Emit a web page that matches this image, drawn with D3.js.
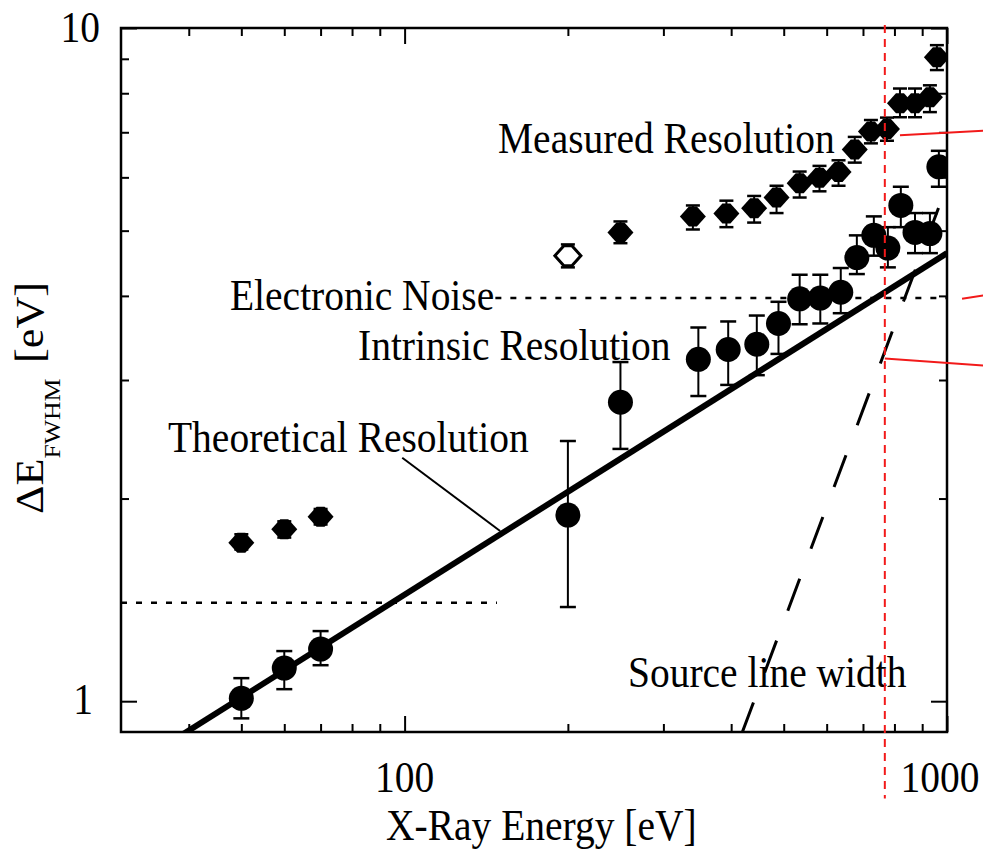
<!DOCTYPE html>
<html>
<head>
<meta charset="utf-8">
<script src="https://cdn.jsdelivr.net/npm/d3@7"></script>
<style>
  body { margin: 0; background: #fff; }
  svg { display: block; }
  text { font-family: "Liberation Serif", "Times New Roman", serif; fill: #000; }
</style>
</head>
<body>
<svg id="chart" width="983" height="850"></svg>
<script>
// Measured resolution (diamonds): energy [eV], value, lower and upper bar ends [eV]
const measuredE   = [50, 60, 70, 200, 250, 340, 392, 441, 485, 535, 582, 631, 676, 724, 775, 819, 873, 930, 958];
const measuredVal = [1.72, 1.80, 1.88, 4.59, 4.97, 5.25, 5.30, 5.40, 5.60, 5.88, 5.99, 6.11, 6.60, 7.02, 7.08, 7.73, 7.73, 7.89, 9.05];
const measuredLo  = [1.68, 1.75, 1.83, 4.41, 4.79, 5.02, 5.06, 5.14, 5.31, 5.60, 5.72, 5.83, 6.31, 6.74, 6.80, 7.37, 7.37, 7.50, 8.66];
const measuredHi  = [1.77, 1.85, 1.93, 4.77, 5.16, 5.45, 5.54, 5.63, 5.83, 6.12, 6.24, 6.36, 6.89, 7.30, 7.36, 8.13, 8.13, 8.22, 9.43];
const measuredOpen = [200]; // hollow symbol

// Intrinsic resolution (circles)
const intrinsicE   = [50, 60, 70, 200, 250, 348, 395, 446, 489, 535, 584, 637, 682, 733, 778, 822, 873, 930, 966];
const intrinsicVal = [1.01, 1.12, 1.195, 1.89, 2.78, 3.22, 3.33, 3.39, 3.64, 3.96, 3.97, 4.05, 4.56, 4.92, 4.71, 5.45, 4.97, 4.95, 6.22];
const intrinsicLo  = [0.943, 1.042, 1.131, 1.38, 2.37, 2.84, 2.95, 3.05, 3.28, 3.63, 3.64, 3.77, 4.31, 4.59, 4.41, 5.06, 4.63, 4.63, 5.81];
const intrinsicHi  = [1.082, 1.187, 1.271, 2.435, 3.19, 3.59, 3.665, 3.74, 3.92, 4.30, 4.30, 4.40, 4.92, 5.25, 5.06, 5.81, 5.31, 5.31, 6.57];

// Curves [energy, dE]
const theoryLine   = [[39, 0.893], [1000, 4.63]];
const sourceLine   = [[418, 0.893], [1000, 5.84]];
const noiseHigh    = [[147, 3.97], [1000, 3.97]];
const noiseLow     = [[30, 1.40], [148, 1.40]];
const theoryPointer = [[99, 2.30], [150, 1.79]];

// Red overlay marks
const redMarkerE = 768;
const redMarkerSpan = [10.1, 0.717];
const redLeaders = [
  [[819, 6.93], [1176, 7.04]],
  [[1066, 3.96], [1176, 4.01]],
  [[768, 3.23], [1176, 3.15]]
];

// Axis ticks
const xMajor = [100, 1000];
const xMinor = [40, 50, 60, 70, 80, 90, 200, 300, 400, 500, 600, 700, 800, 900];
const yMajor = [1, 10];
const yMinor = [2, 3, 4, 5, 6, 7, 8, 9];

const STRETCH = 1.12;  // the scanned text is a little taller than wide
const FS = 39.5;

const svg = d3.select("#chart");
const x = d3.scaleLog().domain([30, 1000]).range([121, 947]);
const y = d3.scaleLog().domain([0.9, 10]).range([732, 28]);
const [x0, x1] = x.range();
const [y0, y1] = [y.range()[1], y.range()[0]];

svg.append("defs").append("clipPath").attr("id", "plotclip")
  .append("rect").attr("x", x0).attr("y", y0).attr("width", x1 - x0).attr("height", y1 - y0);

// axes with inward ticks on all four sides
function addAxis(axisFn, translate, values, size) {
  const g = svg.append("g").attr("transform", translate)
    .call(axisFn.tickValues(values).tickSize(-size).tickFormat(""));
  g.select(".domain").remove();
  g.selectAll(".tick line").attr("stroke", "#000").attr("stroke-width", 2);
}
addAxis(d3.axisBottom(x), `translate(0,${y1})`, xMajor, 16);
addAxis(d3.axisBottom(x), `translate(0,${y1})`, xMinor, 8);
addAxis(d3.axisTop(x), `translate(0,${y0})`, xMajor, 16);
addAxis(d3.axisTop(x), `translate(0,${y0})`, xMinor, 8);
addAxis(d3.axisLeft(y), `translate(${x0},0)`, yMajor, 16);
addAxis(d3.axisLeft(y), `translate(${x0},0)`, yMinor, 8);
addAxis(d3.axisRight(y), `translate(${x1},0)`, yMajor, 16);
addAxis(d3.axisRight(y), `translate(${x1},0)`, yMinor, 8);

function label(txt, px, py, size, anchor) {
  return svg.append("text")
    .attr("transform", `translate(${px},${py}) scale(1,${STRETCH})`)
    .attr("text-anchor", anchor || "start")
    .style("font-size", size + "px")
    .text(txt);
}

// tick labels
label("10", 100, y(10) + 14, FS, "end");
label("1", 93, y(1) + 13, FS, "end");
label("100", x(100), 792, FS, "middle");
label("1000", x(1000) - 7, 792, FS, "middle");

// axis titles
label("X-Ray Energy [eV]", 386, 840, FS, "start");
const yt = svg.append("text")
  .attr("transform", `translate(43,398) scale(1,${STRETCH}) rotate(-90)`)
  .attr("text-anchor", "middle")
  .style("font-size", FS + "px");
yt.append("tspan").text("\u0394E");
yt.append("tspan").attr("dy", 17).style("font-size", "23px").text("FWHM");
yt.append("tspan").attr("dy", -17).attr("dx", 4).text(" [eV]");

const line = d3.line().x(d => x(d[0])).y(d => y(d[1]));
const plot = svg.append("g").attr("clip-path", "url(#plotclip)");

// curves
plot.append("path").attr("d", line(theoryLine))
  .attr("fill", "none").attr("stroke", "#000").attr("stroke-width", 6);
plot.append("path").attr("d", line(sourceLine))
  .attr("fill", "none").attr("stroke", "#000").attr("stroke-width", 3)
  .attr("stroke-dasharray", "34,32");
[noiseHigh, noiseLow].forEach(seg => {
  plot.append("path").attr("d", line(seg))
    .attr("fill", "none").attr("stroke", "#000").attr("stroke-width", 2.5)
    .attr("stroke-dasharray", "6,9");
});
svg.append("path").attr("d", line(theoryPointer))
  .attr("fill", "none").attr("stroke", "#000").attr("stroke-width", 2);

// error bars
function errorBars(E, lo, hi, cap) {
  const g = plot.append("g").attr("stroke", "#000");
  E.forEach((e, i) => {
    const cx = x(e);
    g.append("line").attr("x1", cx).attr("x2", cx).attr("y1", y(lo[i])).attr("y2", y(hi[i]))
      .attr("stroke-width", 2);
    [lo[i], hi[i]].forEach(v => {
      g.append("line").attr("x1", cx - cap).attr("x2", cx + cap).attr("y1", y(v)).attr("y2", y(v))
        .attr("stroke-width", 2.5);
    });
  });
}
errorBars(intrinsicE, intrinsicLo, intrinsicHi, 8);
errorBars(measuredE, measuredLo, measuredHi, 7);

// circles
plot.selectAll("circle.intr").data(intrinsicE).enter().append("circle")
  .attr("cx", d => x(d)).attr("cy", (d, i) => y(intrinsicVal[i])).attr("r", 12.5)
  .attr("fill", "#000");

// diamonds
const diamond = "M-4,-10L4,-10L13,0L4,10L-4,10L-13,0Z";
plot.selectAll("path.meas").data(measuredE).enter().append("path")
  .attr("d", diamond)
  .attr("transform", (d, i) => `translate(${x(d)},${y(measuredVal[i])})`)
  .attr("fill", d => measuredOpen.includes(d) ? "#fff" : "#000")
  .attr("stroke", "#000").attr("stroke-width", d => measuredOpen.includes(d) ? 3 : 0);

// frame
svg.append("rect").attr("x", x0).attr("y", y0).attr("width", x1 - x0).attr("height", y1 - y0)
  .attr("fill", "none").attr("stroke", "#000").attr("stroke-width", 2.5);

// annotations
label("Measured Resolution", 498, 153, FS);
label("Electronic Noise", 230, 310, FS);
label("Intrinsic Resolution", 358, 360, FS);
label("Theoretical Resolution", 168, 452, FS);
label("Source line width", 628, 687, FS);

// red overlay
svg.append("line").attr("x1", x(redMarkerE)).attr("x2", x(redMarkerE))
  .attr("y1", y(redMarkerSpan[0])).attr("y2", y(redMarkerSpan[1]))
  .attr("stroke", "#f21a1a").attr("stroke-width", 2).attr("stroke-dasharray", "8,6");
redLeaders.forEach(seg => {
  svg.append("path").attr("d", line(seg))
    .attr("fill", "none").attr("stroke", "#f21a1a").attr("stroke-width", 2);
});
</script>
</body>
</html>
